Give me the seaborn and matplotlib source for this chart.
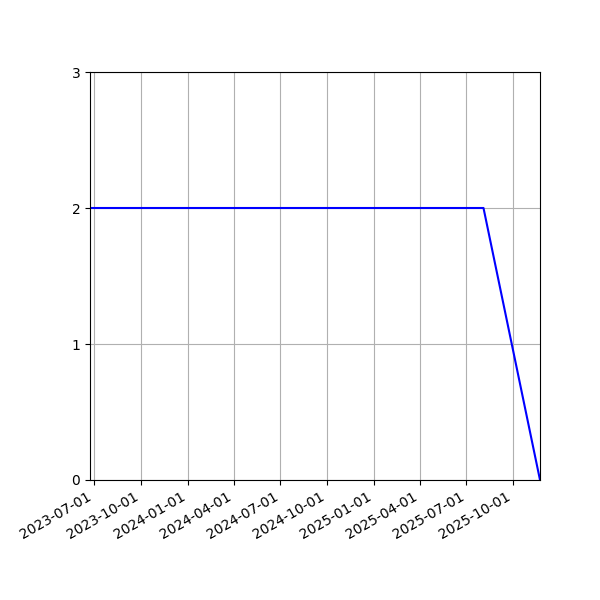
import matplotlib
matplotlib.use("Agg")
import matplotlib.pyplot as plt
import matplotlib.dates as mdates
import pandas as pd
import seaborn as sns

# Data
dates = ["2023-06-23", "2025-08-04", "2025-11-23"]
values = [2, 2, 0]

df = pd.DataFrame({"date": pd.to_datetime(dates), "value": values})

fig, ax = plt.subplots(figsize=(6, 6), dpi=100)
sns.lineplot(data=df, x="date", y="value", ax=ax, color="blue", linewidth=1.5)

ax.set_xlim(df.date.min(), df.date.max())
ax.set_ylim(0, 3)
ax.set_yticks([0, 1, 2, 3])
ax.xaxis.set_major_locator(mdates.MonthLocator(bymonth=[1, 4, 7, 10]))
ax.xaxis.set_major_formatter(mdates.DateFormatter("%Y-%m-%d"))
ax.set_xlabel("")
ax.set_ylabel("")
ax.grid(True)

fig.autofmt_xdate()
fig.subplots_adjust(left=0.15, right=0.9, top=0.88, bottom=0.2)
fig.savefig("out.png")
